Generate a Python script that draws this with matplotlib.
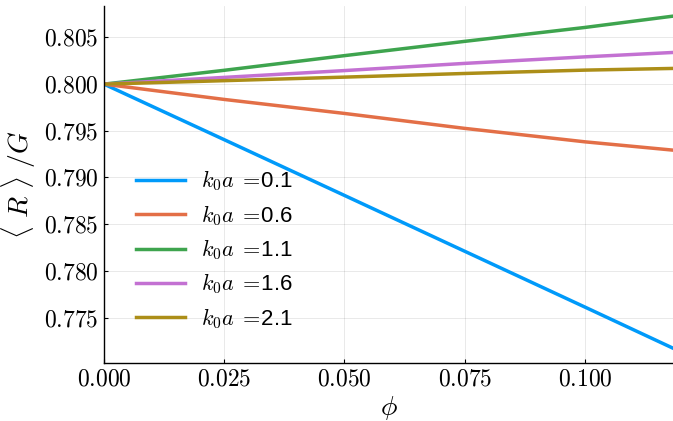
import matplotlib.pyplot as plt
from matplotlib.ticker import FuncFormatter

plt.rcParams['mathtext.fontset'] = 'cm'
plt.rcParams['font.family'] = ['Liberation Sans', 'DejaVu Sans']

# volume fraction samples
phi = [0.0, 0.025, 0.05, 0.075, 0.1, 0.1183]

# mean R over G for each k0*a
ka_values = ['0.1', '0.6', '1.1', '1.6', '2.1']
r_01 = [0.8000, 0.79405, 0.78808, 0.78210, 0.77612, 0.77172]
r_06 = [0.8000, 0.79836, 0.79686, 0.79526, 0.79382, 0.79293]
r_11 = [0.8000, 0.80148, 0.80305, 0.80458, 0.80607, 0.80728]
r_16 = [0.8000, 0.80072, 0.80145, 0.80222, 0.80292, 0.80339]
r_21 = [0.8000, 0.80037, 0.80075, 0.80114, 0.80150, 0.80168]
series = [r_01, r_06, r_11, r_16, r_21]

colors = ['#009AFA', '#E36F47', '#3EA44E', '#C371D2', '#AC8E18']

fig = plt.figure(figsize=(6.73, 4.21), dpi=100)
ax = fig.add_axes([0.1545, 0.137, 0.8455, 0.8495])

for vals, ka, c in zip(series, ka_values, colors):
    ax.plot(phi, vals, color=c, lw=2.5, label=r'$k_0a\;=\!$' + ka)

ax.set_xlim(0, 0.1183)
ax.set_ylim(0.7701, 0.8084)
ax.set_xticks([0.0, 0.025, 0.05, 0.075, 0.1])
ax.set_yticks([0.775, 0.780, 0.785, 0.790, 0.795, 0.800, 0.805])
ax.xaxis.set_major_formatter(FuncFormatter(lambda v, p: r'$%.3f$' % v))
ax.yaxis.set_major_formatter(FuncFormatter(lambda v, p: r'$%.3f$' % v))
ax.tick_params(direction='in', length=3, width=0.8, labelsize=17, pad=4)

for s in ['top', 'right']:
    ax.spines[s].set_visible(False)
for s in ['left', 'bottom']:
    ax.spines[s].set_linewidth(1.0)

ax.grid(True, color='black', alpha=0.1, lw=0.6)

ax.set_xlabel(r'$\phi$', fontsize=20, labelpad=2)
ax.set_ylabel(r'$\langle\ R\ \rangle\ /G$', fontsize=20, labelpad=4)

ax.legend(loc='lower left', bbox_to_anchor=(0.022, 0.035), frameon=False,
          fontsize=16, handlelength=2.2, handletextpad=0.7, labelspacing=0.43)

fig.savefig('out.png', dpi=100)
